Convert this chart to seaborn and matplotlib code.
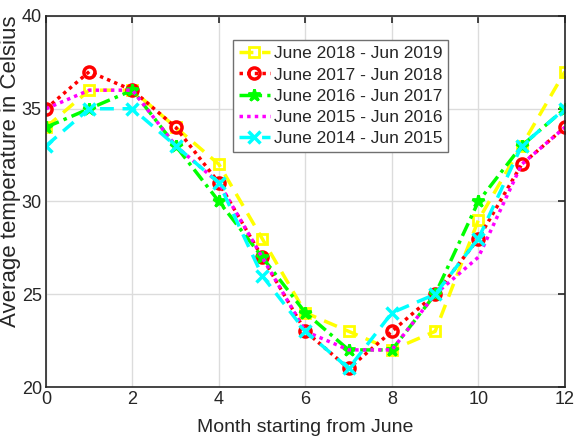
import matplotlib
matplotlib.use("Agg")
import matplotlib.pyplot as plt
import seaborn as sns
import pandas as pd

# Monthly average temperatures (month 0 = June)
months = list(range(13))
labels = [
    "June 2018 - Jun 2019",
    "June 2017 - Jun 2018",
    "June 2016 - Jun 2017",
    "June 2015 - Jun 2016",
    "June 2014 - Jun 2015",
]
temp_2018 = [34, 36, 36, 34, 32, 28, 24, 23, 22, 23, 29, 33, 37]
temp_2017 = [35, 37, 36, 34, 31, 27, 23, 21, 23, 25, 28, 32, 34]
temp_2016 = [34, 35, 36, 33, 30, 27, 24, 22, 22, 25, 30, 33, 35]
temp_2015 = [35, 36, 36, 33, 31, 27, 23, 22, 22, 25, 27, 32, 34]
temp_2014 = [33, 35, 35, 33, 31, 26, 23, 21, 24, 25, 28, 33, 35]
series = [temp_2018, temp_2017, temp_2016, temp_2015, temp_2014]

styles = [
    dict(color="#ffff00", linestyle=(0, (4, 2.5)), marker="s", mfc="none", mec="#ffff00", ms=7, mew=2),
    dict(color="#ff0000", linestyle=(0, (1, 1.2)), marker="o", mfc="none", mec="#ff0000", ms=8, mew=2.5),
    dict(color="#00ff00", linestyle=(0, (4, 1.5, 1, 1.5)), marker="*", mfc="#00ff00", mec="#00ff00", ms=9, mew=2),
    dict(color="#ff00ff", linestyle=(0, (1, 1.2)), marker=None),
    dict(color="#00ffff", linestyle=(0, (4, 2.5)), marker="x", mec="#00ffff", ms=9, mew=2.5),
]

sns.set_style("white")
plt.rcParams["font.family"] = ["Liberation Sans", "DejaVu Sans"]

fig = plt.figure(figsize=(5.77, 4.43), dpi=100)
ax = fig.add_axes([0.0797, 0.1264, 0.8993, 0.8375])

for vals, lab, st in zip(series, labels, styles):
    df = pd.DataFrame({"month": months, "temp": vals})
    sns.lineplot(data=df, x="month", y="temp", ax=ax, label=lab, lw=2.5, **st)

ax.set_xlim(0, 12)
ax.set_ylim(20, 40)
ax.set_xticks(range(0, 13, 2))
ax.set_yticks(range(20, 41, 5))
ax.grid(True, color="#dcdcdc", lw=1)
ax.set_axisbelow(True)
for sp in ax.spines.values():
    sp.set_color("#262626")
    sp.set_linewidth(1.2)
ax.tick_params(direction="in", length=5, width=1.2, top=True, right=True,
               labelsize=13, colors="#262626", pad=3)
ax.set_xlabel("Month starting from June", fontsize=14, color="#262626", labelpad=8)
ax.set_ylabel("Average temperature in Celsius", fontsize=16, color="#262626")
ax.yaxis.set_label_coords(-0.048, 0.582)

leg = ax.legend(loc="upper left", bbox_to_anchor=(0.36, 0.935), fontsize=12.5,
                frameon=True, fancybox=False, framealpha=1, edgecolor="#707070",
                handlelength=1.8, handletextpad=0.2, labelspacing=0.35, borderpad=0.35,
                borderaxespad=0)
leg.get_frame().set_linewidth(1.0)

fig.savefig("out.png", dpi=100)
